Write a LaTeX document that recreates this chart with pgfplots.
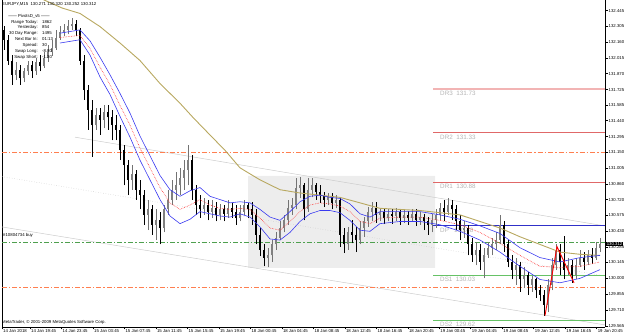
\documentclass[border=0pt]{standalone}
\usepackage{fontspec}
\setmainfont{Liberation Sans}
\usepackage{pgfplots}
\usepackage{pgfplotstable}
\pgfplotsset{compat=1.18}
\definecolor{olivema}{HTML}{B8A860}
\definecolor{bandblue}{HTML}{3A3AF0}
\definecolor{midred}{HTML}{FF3030}
\definecolor{drred}{HTML}{E06868}
\definecolor{drlight}{HTML}{F2B4B4}
\definecolor{dsgreen}{HTML}{66C266}
\definecolor{dashorange}{HTML}{FF7F50}
\definecolor{dashgreen}{HTML}{4FA04F}
\definecolor{pivblue}{HTML}{3030C8}
\definecolor{lvltext}{HTML}{B4B4B4}

\pgfplotstableread{
x o h l c
4 132.27 132.31 132.09 132.18
8 132.18 132.22 131.95 131.99
12 131.99 132.04 131.77 131.86
16 131.86 131.98 131.81 131.90
20 131.90 131.95 131.77 131.83
24 131.83 131.92 131.79 131.89
28 131.89 131.99 131.86 131.95
32 131.95 131.99 131.83 131.89
36 131.89 132.01 131.86 131.98
40 131.98 132.04 131.89 131.94
44 131.94 132.07 131.92 132.01
48 132.01 132.13 131.98 132.07
52 132.07 132.18 132.03 132.10
56 132.10 132.27 132.09 132.20
60 132.20 132.31 132.18 132.25
64 132.25 132.32 132.21 132.27
68 132.27 132.36 132.23 132.31
72 132.31 132.38 132.27 132.32
76 132.32 132.36 132.21 132.27
80 132.27 132.29 131.95 131.99
84 131.99 132.04 131.63 131.72
88 131.72 131.77 131.36 131.54
92 131.54 131.63 131.11 131.40
96 131.40 131.56 131.36 131.49
100 131.49 131.56 131.31 131.45
104 131.45 131.58 131.37 131.52
108 131.52 131.58 131.36 131.47
112 131.47 131.54 131.26 131.40
116 131.40 131.49 131.26 131.36
120 131.36 131.40 131.08 131.17
124 131.17 131.22 130.85 131.04
128 131.04 131.08 130.76 130.90
132 130.90 131.04 130.81 130.95
136 130.95 130.99 130.72 130.81
140 130.81 130.90 130.63 130.76
144 130.76 130.81 130.49 130.58
148 130.58 130.72 130.44 130.63
152 130.63 130.67 130.40 130.49
156 130.49 130.63 130.35 130.53
160 130.53 130.61 130.31 130.46
164 130.46 130.67 130.42 130.63
168 130.63 130.81 130.58 130.72
172 130.72 130.90 130.67 130.81
176 130.81 130.97 130.72 130.85
180 130.85 131.01 130.76 130.92
184 130.92 131.08 130.81 130.99
188 130.99 131.22 130.85 131.08
192 131.08 131.13 130.72 130.81
196 130.81 130.85 130.58 130.67
200 130.67 130.76 130.55 130.63
204 130.63 130.73 130.58 130.67
208 130.67 130.72 130.53 130.61
212 130.61 130.72 130.55 130.64
216 130.64 130.70 130.52 130.58
220 130.58 130.68 130.53 130.63
224 130.63 130.67 130.52 130.59
228 130.59 130.72 130.55 130.64
232 130.64 130.69 130.55 130.61
236 130.61 130.67 130.49 130.55
240 130.55 130.67 130.52 130.61
244 130.61 130.72 130.58 130.67
248 130.67 130.69 130.55 130.63
252 130.63 130.70 130.49 130.58
256 130.58 130.63 130.31 130.40
260 130.40 130.46 130.20 130.26
264 130.26 130.31 130.11 130.19
268 130.19 130.28 130.10 130.21
272 130.21 130.35 130.15 130.31
276 130.31 130.42 130.26 130.37
280 130.37 130.52 130.35 130.46
284 130.46 130.58 130.42 130.53
288 130.53 130.72 130.49 130.64
292 130.64 130.73 130.58 130.67
296 130.67 130.92 130.63 130.83
300 130.83 130.93 130.73 130.85
304 130.85 130.87 130.53 130.63
308 130.63 130.92 130.61 130.81
312 130.81 130.92 130.74 130.85
316 130.85 130.87 130.72 130.79
320 130.79 130.85 130.69 130.76
324 130.76 130.79 130.65 130.72
328 130.72 130.78 130.67 130.75
332 130.75 130.78 130.63 130.69
336 130.69 130.76 130.64 130.72
340 130.72 130.73 130.29 130.40
344 130.40 130.46 130.23 130.31
348 130.31 130.47 130.26 130.42
352 130.42 130.53 130.32 130.40
356 130.40 130.47 130.24 130.35
360 130.35 130.52 130.31 130.46
364 130.46 130.56 130.38 130.52
368 130.52 130.65 130.47 130.61
372 130.61 130.70 130.52 130.64
376 130.64 130.70 130.51 130.58
380 130.58 130.64 130.52 130.61
384 130.61 130.63 130.50 130.55
388 130.55 130.63 130.52 130.59
392 130.59 130.63 130.50 130.57
396 130.57 130.64 130.52 130.61
400 130.61 130.63 130.49 130.55
404 130.55 130.63 130.51 130.58
408 130.58 130.62 130.49 130.55
412 130.55 130.63 130.52 130.59
416 130.59 130.63 130.48 130.53
420 130.53 130.61 130.49 130.56
424 130.56 130.59 130.44 130.52
428 130.52 130.56 130.40 130.49
432 130.49 130.59 130.42 130.53
436 130.53 130.63 130.46 130.58
440 130.58 130.69 130.53 130.64
444 130.64 130.72 130.52 130.61
448 130.61 130.73 130.58 130.67
452 130.67 130.72 130.53 130.63
456 130.63 130.67 130.44 130.52
460 130.52 130.58 130.35 130.44
464 130.44 130.52 130.37 130.46
468 130.46 130.49 130.21 130.31
472 130.31 130.37 130.15 130.21
476 130.21 130.33 130.12 130.26
480 130.26 130.31 130.08 130.15
484 130.15 130.28 130.00 130.21
488 130.21 130.33 130.19 130.28
492 130.28 130.37 130.21 130.31
496 130.31 130.42 130.26 130.35
500 130.35 130.58 130.31 130.49
504 130.49 130.52 130.24 130.31
508 130.31 130.35 130.10 130.15
512 130.15 130.21 129.99 130.08
516 130.08 130.19 129.94 130.12
520 130.12 130.15 129.88 129.99
524 129.99 130.10 129.91 130.03
528 130.03 130.06 129.85 129.94
532 129.94 130.02 129.88 129.99
536 129.99 130.00 129.82 129.89
540 129.89 129.94 129.79 129.85
544 129.85 129.89 129.66 129.76
548 129.76 129.99 129.69 129.94
552 129.94 130.19 129.89 130.12
556 130.12 130.31 130.08 130.26
560 130.26 130.31 130.03 130.15
564 130.15 130.39 129.99 130.08
568 130.08 130.19 130.03 130.12
572 130.12 130.17 129.96 130.03
576 130.03 130.19 129.99 130.12
580 130.12 130.26 130.10 130.19
584 130.19 130.24 130.08 130.15
588 130.15 130.26 130.12 130.21
592 130.21 130.28 130.13 130.19
596 130.19 130.33 130.17 130.28
600 130.28 130.37 130.24 130.31
}\candles

\newcommand{\tk}{\fontsize{4.3}{5}\selectfont}
\newcommand{\lv}{\fontsize{6.3}{7}\selectfont}

\pgfplotsset{
  candle/.style n args={3}{draw=none, mark=none, forget plot,
    restrict expr to domain={\thisrow{c}-\thisrow{o}}{#1},
    error bars/.cd, y dir=plus, y explicit, error mark=none,
    error bar style={draw=#2, line width=#3, line cap=butt}},
}

\begin{document}
\begin{tikzpicture}
\useasboundingbox (-2pt,-7pt) rectangle (623pt,327pt);
\begin{axis}[
  width=603pt, height=327pt, scale only axis,
  xmin=2, xmax=605, ymin=129.556, ymax=132.543,
  axis x line*=bottom, axis y line*=right,
  axis line style={black, line width=0.6pt},
  tick align=outside, major tick length=2.5pt,
  tick style={black, line width=0.5pt},
  xtick={2,30,61.5,93,124.4,155.9,187.4,218.9,250.4,281.8,313.3,344.8,376.3,407.8,439.2,470.7,502.2,533.7,565.2,596.6},
  xticklabels={14 Jan 2018,14 Jan 19:45,14 Jan 23:45,15 Jan 03:45,15 Jan 07:45,15 Jan 11:45,15 Jan 15:45,15 Jan 19:45,18 Jan 00:45,18 Jan 04:45,18 Jan 08:45,18 Jan 12:45,18 Jan 16:45,18 Jan 20:45,19 Jan 00:45,19 Jan 04:45,19 Jan 08:45,19 Jan 12:45,19 Jan 16:45,19 Jan 20:45},
  xticklabel style={anchor=north west, inner sep=0pt, xshift=1pt, font=\tk},
  ytick={129.565,129.710,129.855,130.000,130.145,130.285,130.430,130.575,130.720,130.860,131.005,131.150,131.295,131.440,131.585,131.725,131.870,132.015,132.160,132.305,132.445},
  yticklabels={129.565,129.710,129.855,130.000,130.145,130.285,130.430,130.575,130.720,130.860,131.005,131.150,131.295,131.440,131.585,131.725,131.870,132.015,132.160,132.305,132.445},
  yticklabel style={anchor=west, inner sep=0pt, xshift=1pt, font=\tk},
]
\draw[black, line width=0.6pt] (rel axis cs:0,0) -- (rel axis cs:0,1);
% background rectangle
\addplot[fill=gray!14, draw=none, forget plot] coordinates {(248,130.936) (435,130.936) (435,130.096) (248,130.096) (248,130.936)};
% channel lines
\addplot[gray!40, line width=0.5pt] coordinates {(75,131.29) (605,130.479)};
\addplot[gray!40, line width=0.5pt] coordinates {(2,130.47) (605,129.575)};
\addplot[gray!45, line width=0.5pt, dotted] coordinates {(2,130.93) (605,130.023)};
% full-width dash-dot lines
\addplot[dashorange, line width=0.6pt, dash pattern=on 5pt off 2pt on 1.5pt off 2pt] coordinates {(2,131.155) (605,131.155)};
\addplot[dashorange, line width=0.6pt, dash pattern=on 5pt off 2pt on 1.5pt off 2pt] coordinates {(2,129.922) (605,129.922)};
\addplot[dashgreen, line width=0.6pt, dash pattern=on 5pt off 2pt on 1.5pt off 2pt] coordinates {(2,130.333) (605,130.333)};
% pivot levels
\addplot[drlight, line width=1.4pt] coordinates {(433,131.73) (605,131.73)};
\addplot[drred, line width=0.7pt] coordinates {(433,131.33) (605,131.33)};
\addplot[drred, line width=0.7pt] coordinates {(433,130.88) (605,130.88)};
\addplot[pivblue, line width=0.7pt] coordinates {(433,130.48) (605,130.48)};
\addplot[dsgreen, line width=0.7pt] coordinates {(433,130.03) (605,130.03)};
\addplot[dsgreen, line width=0.9pt] coordinates {(433,129.62) (605,129.62)};
\node[anchor=north west, inner sep=0pt, font=\lv, text=lvltext] at (axis cs:440,131.715) {DR3\ \ 131.73};
\node[anchor=north west, inner sep=0pt, font=\lv, text=lvltext] at (axis cs:440,131.315) {DR2\ \ 131.33};
\node[anchor=north west, inner sep=0pt, font=\lv, text=lvltext] at (axis cs:440,130.865) {DR1\ \ 130.88};
\node[anchor=north west, inner sep=0pt, font=\lv, text=lvltext] at (axis cs:440,130.465) {DP\ \ \ 130.48};
\node[anchor=north west, inner sep=0pt, font=\lv, text=lvltext] at (axis cs:440,130.015) {DS1\ \ 130.03};
\node[anchor=north west, inner sep=0pt, font=\lv, text=lvltext] at (axis cs:440,129.605) {DS2\ \ 129.62};
% candles: wicks
\addplot[candle={0:5}{black!55}{0.6pt}]
  table[x=x, y=l, y error expr={\thisrow{h}-\thisrow{l}}] {\candles};
\addplot[candle={-5:-0.0001}{black}{0.6pt}]
  table[x=x, y=l, y error expr={\thisrow{h}-\thisrow{l}}] {\candles};
% candles: bodies
\addplot[candle={0:5}{black!50}{2.4pt}]
  table[x=x, y expr={min(\thisrow{o},\thisrow{c})}, y error expr={abs(\thisrow{c}-\thisrow{o})}] {\candles};
\addplot[candle={-5:-0.0001}{black}{2.4pt}]
  table[x=x, y expr={min(\thisrow{o},\thisrow{c})}, y error expr={abs(\thisrow{c}-\thisrow{o})}] {\candles};
% slow MA
\addplot[olivema, line width=0.9pt] coordinates {(40,132.56) (62,132.47) (80,132.42) (100,132.30) (120,132.15) (140,131.99) (160,131.78) (180,131.60) (193,131.47) (210,131.31) (225,131.17) (240,131.01) (260,130.90) (280,130.81) (300,130.78) (320,130.76) (340,130.74) (360,130.69) (380,130.64) (400,130.63) (420,130.62) (440,130.60) (460,130.58) (480,130.52) (500,130.46) (520,130.38) (540,130.31) (560,130.24) (580,130.22) (600,130.21)};
% bands
\addplot[bandblue, line width=0.6pt] coordinates {(60,132.24) (80,132.27) (90,132.17) (100,132.02) (110,131.86) (120,131.69) (130,131.51) (140,131.30) (150,131.12) (160,130.94) (170,130.81) (180,130.75) (190,130.80) (200,130.83) (210,130.75) (220,130.72) (230,130.69) (240,130.70) (250,130.69) (260,130.63) (270,130.56) (280,130.53) (290,130.61) (300,130.70) (310,130.75) (320,130.76) (330,130.74) (340,130.73) (350,130.68) (360,130.59) (370,130.56) (380,130.61) (400,130.61) (420,130.61) (440,130.58) (460,130.54) (480,130.48) (500,130.41) (520,130.28) (540,130.19) (560,130.15) (580,130.19) (600,130.21)};
\addplot[midred, line width=0.6pt, densely dotted] coordinates {(60,132.20) (80,132.22) (90,132.10) (100,131.93) (110,131.77) (120,131.58) (130,131.40) (140,131.19) (150,131.01) (160,130.83) (170,130.69) (180,130.63) (190,130.67) (200,130.72) (210,130.67) (220,130.64) (230,130.63) (240,130.64) (250,130.63) (260,130.55) (270,130.46) (280,130.44) (290,130.52) (300,130.61) (310,130.67) (320,130.69) (330,130.68) (340,130.66) (350,130.61) (360,130.52) (370,130.50) (380,130.55) (400,130.56) (420,130.56) (440,130.53) (460,130.49) (480,130.42) (500,130.32) (520,130.21) (540,130.11) (560,130.10) (580,130.11) (600,130.15)};
\addplot[bandblue, line width=0.6pt] coordinates {(60,132.15) (80,132.18) (90,132.04) (100,131.84) (110,131.68) (120,131.48) (130,131.29) (140,131.08) (150,130.90) (160,130.72) (170,130.57) (180,130.50) (190,130.54) (200,130.61) (210,130.59) (220,130.57) (230,130.56) (240,130.59) (250,130.56) (260,130.47) (270,130.36) (280,130.35) (290,130.42) (300,130.52) (310,130.59) (320,130.62) (330,130.62) (340,130.60) (350,130.53) (360,130.44) (370,130.43) (380,130.50) (400,130.52) (420,130.52) (440,130.49) (460,130.43) (480,130.35) (500,130.24) (520,130.11) (540,129.99) (560,129.96) (580,130.00) (600,130.08)};
% zigzag
\addplot[red, line width=0.9pt] coordinates {(545,129.66) (557,130.29) (574,129.96)};
\end{axis}
% texts (axis box lower-left = image (2,327))
\node[anchor=north west, inner sep=0pt, font=\tk] at (0pt,325pt) {EURJPY,M15\ \ 130.271 130.320 130.252 130.312};
\node[anchor=center, inner sep=0pt, font=\tk] at (27pt,311pt) {------ PivotsD\_v5 ------};
\foreach \lab/\val/\yy in {Range Today:/1862/305, Yesterday:/854/299.5, 30 Day Range:/1495/294, Next Bar In:/01:13/288, Spread:/30/282, Swap Long:/-8.80/276, Swap Short:/-1.30/270}{
  \node[anchor=east, inner sep=0pt, font=\tk] at (36pt,\yy pt) {\lab};
  \node[anchor=west, inner sep=0pt, font=\tk] at (40pt,\yy pt) {\val};
}
\node[anchor=south west, inner sep=0pt, font=\tk] at (1pt,89pt) {\#10804734 buy};
\node[anchor=west, inner sep=0pt, font=\tk] at (0pt,5pt) {MetaTrader, © 2001-2009 MetaQuotes Software Corp.};
\node[anchor=west, fill=black, text=white, inner sep=0.6pt, font=\tk] at (604pt,83pt) {130.312};
\end{tikzpicture}
\end{document}
